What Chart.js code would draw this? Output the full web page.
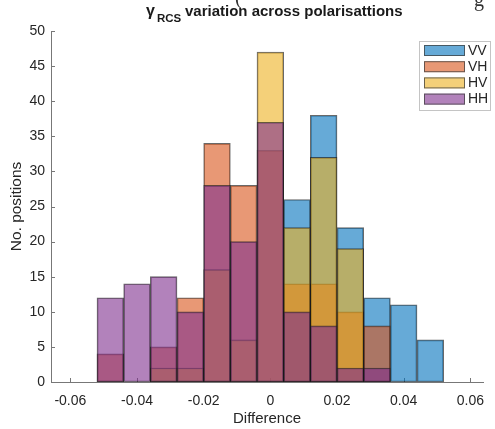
<!DOCTYPE html>
<html>
<head>
<meta charset="utf-8">
<script src="https://cdn.jsdelivr.net/npm/chart.js@4.4.1/dist/chart.umd.min.js"></script>
<style>
  body { margin: 0; background: #fff; }
  canvas { display: block; }
</style>
</head>
<body>
<canvas id="histChart" width="495" height="429"></canvas>
<script>
// bin centres, bin width 0.008
const binCenters = [-0.048, -0.040, -0.032, -0.024, -0.016, -0.008, 0, 0.008, 0.016, 0.024, 0.032, 0.040, 0.048];
// counts per bin
const vvCounts = [0, 0, 0, 0, 0, 0, 0, 26, 38, 22, 12, 11, 6];
const vhCounts = [4, 0, 5, 12, 34, 28, 33, 14, 14, 10, 8, 0, 0];
const hvCounts = [0, 0, 2, 2, 16, 6, 47, 22, 32, 19, 0, 0, 0];
const hhCounts = [12, 14, 15, 10, 28, 20, 37, 10, 8, 2, 2, 0, 0];
const seriesNames = ['VV', 'VH', 'HV', 'HH'];
const xTicks = [-0.06, -0.04, -0.02, 0, 0.02, 0.04, 0.06];
const yTicks = [0, 5, 10, 15, 20, 25, 30, 35, 40, 45, 50];

// matlab default colours, face alpha 0.6
const fillColors = ['rgba(0,114,189,0.6)', 'rgba(217,83,25,0.6)', 'rgba(237,177,32,0.6)', 'rgba(126,47,142,0.6)'];
const edgeColor = 'rgba(25,25,25,0.65)';
const axisColor = '#777';
const textColor = '#262626';
const fontFamily = '"Liberation Sans", Arial, Helvetica, sans-serif';

function makeSet(i, counts) {
    return {
        label: seriesNames[i],
        data: counts.map((c, k) => ({ x: binCenters[k], y: c > 0 ? c : null })),
        backgroundColor: fillColors[i],
        borderColor: edgeColor,
        borderWidth: 1,
        borderSkipped: false,
        grouped: false,
        barPercentage: 1,
        categoryPercentage: 1,
        order: 4 - i // HH drawn last (on top), like matlab
    };
}

// ticks inside the axes, title with subscript, boxed legend
const decorPlugin = {
    id: 'decor',
    beforeDatasetsDraw(chart) {
        const { ctx, chartArea, scales: { x, y } } = chart;
        ctx.save();
        ctx.strokeStyle = axisColor;
        ctx.lineWidth = 1;
        ctx.beginPath();
        xTicks.forEach(v => {
            const px = Math.round(x.getPixelForValue(v)) + 0.5;
            ctx.moveTo(px, chartArea.bottom);
            ctx.lineTo(px, chartArea.bottom - 4);
        });
        yTicks.forEach(v => {
            const py = Math.round(y.getPixelForValue(v)) + 0.5;
            ctx.moveTo(chartArea.left, py);
            ctx.lineTo(chartArea.left + 4, py);
        });
        ctx.stroke();
        ctx.restore();
    },
    afterDraw(chart) {
        const ctx = chart.ctx;
        ctx.save();

        // bits of the surrounding document text, cut off at the top
        ctx.fillStyle = '#333';
        ctx.font = '20px "Liberation Serif", "Times New Roman", serif';
        ctx.textBaseline = 'alphabetic';
        ctx.fillText('(', 235, 4);
        ctx.fillText('g', 474, 6);

        // title
        ctx.fillStyle = '#1a1a1a';
        ctx.font = 'bold 16px ' + fontFamily;
        ctx.fillText('γ', 146, 16);
        ctx.font = 'bold 11.5px ' + fontFamily;
        ctx.fillText('RCS', 157, 22);
        ctx.font = 'bold 15px ' + fontFamily;
        ctx.fillText('variation across polarisattions', 185, 16);

        // legend
        const lx = 419, ly = 41, lw = 72, lh = 70;
        ctx.fillStyle = '#fff';
        ctx.fillRect(lx, ly, lw, lh);
        ctx.strokeStyle = '#c4c4c4';
        ctx.lineWidth = 1;
        ctx.strokeRect(lx + 0.5, ly + 0.5, lw - 1, lh - 1);
        ctx.font = '14px ' + fontFamily;
        ctx.textBaseline = 'middle';
        seriesNames.forEach((name, i) => {
            const sy = ly + 4 + i * 16.2;
            ctx.fillStyle = fillColors[i];
            ctx.fillRect(lx + 5, sy, 41, 11);
            ctx.strokeStyle = 'rgba(60,60,60,0.75)';
            ctx.strokeRect(lx + 5.5, sy + 0.5, 40, 10);
            ctx.fillStyle = textColor;
            ctx.fillText(name, lx + 49, sy + 6);
        });
        ctx.restore();
    }
};

const ctx = document.getElementById('histChart').getContext('2d');
const histChart = new Chart(ctx, {
    type: 'bar',
    data: {
        datasets: [
            makeSet(0, vvCounts),
            makeSet(1, vhCounts),
            makeSet(2, hvCounts),
            makeSet(3, hhCounts)
        ]
    },
    options: {
        responsive: false,
        animation: false,
        layout: { padding: { top: 31, right: 1, left: 0, bottom: 0 } },
        plugins: {
            legend: { display: false },
            title: { display: false },
            tooltip: { enabled: false }
        },
        scales: {
            x: {
                type: 'linear',
                min: -0.0658,
                max: 0.0638,
                offset: false,
                grid: { display: false, drawTicks: false, tickLength: 0, offset: false },
                border: { display: true, color: axisColor, width: 1 },
                afterBuildTicks: s => { s.ticks = xTicks.map(v => ({ value: v })); },
                afterFit: s => { s.height = 47; },
                ticks: {
                    autoSkip: false,
                    maxRotation: 0,
                    padding: 11,
                    color: textColor,
                    font: { family: fontFamily, size: 14 },
                    callback: v => (v === 0 ? '0' : v.toFixed(2))
                },
                title: {
                    display: true,
                    text: 'Difference',
                    color: textColor,
                    font: { family: fontFamily, size: 15 },
                    padding: { top: 0, bottom: 1 }
                }
            },
            y: {
                min: 0,
                max: 50,
                grid: { display: false, drawTicks: false, tickLength: 0 },
                border: { display: true, color: axisColor, width: 1 },
                afterBuildTicks: s => { s.ticks = yTicks.map(v => ({ value: v })); },
                afterFit: s => { s.width = 51; },
                ticks: {
                    autoSkip: false,
                    padding: 6,
                    color: textColor,
                    font: { family: fontFamily, size: 14 }
                },
                title: {
                    display: true,
                    text: 'No. positions',
                    color: textColor,
                    font: { family: fontFamily, size: 15.5 },
                    padding: { top: 7, bottom: 0 }
                }
            }
        }
    },
    plugins: [decorPlugin]
});
</script>
</body>
</html>
